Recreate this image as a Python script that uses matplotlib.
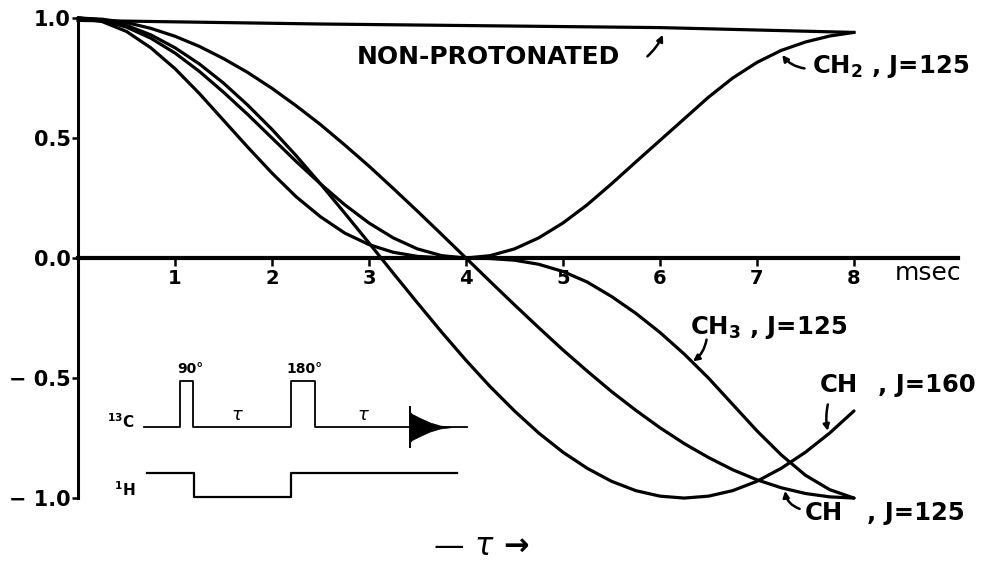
import matplotlib.pyplot as plt

# Delay tau (msec) and relative signal intensity of each carbon type
tau_ms = [0, 0.25, 0.5, 0.75, 1, 1.25, 1.5, 1.75, 2, 2.25, 2.5, 2.75, 3, 3.25, 3.5, 3.75,
          4, 4.25, 4.5, 4.75, 5, 5.25, 5.5, 5.75, 6, 6.25, 6.5, 6.75, 7, 7.25, 7.5, 7.75, 8]

ch_125 = [1.0, 0.995, 0.981, 0.957, 0.924, 0.882, 0.831, 0.773, 0.707, 0.634, 0.556, 0.471,
          0.383, 0.290, 0.195, 0.098, 0.0, -0.098, -0.195, -0.290, -0.383, -0.471, -0.556,
          -0.634, -0.707, -0.773, -0.831, -0.882, -0.924, -0.957, -0.981, -0.995, -1.0]

ch_160 = [1.0, 0.992, 0.969, 0.930, 0.876, 0.809, 0.729, 0.637, 0.536, 0.426, 0.309, 0.187,
          0.063, -0.063, -0.187, -0.309, -0.426, -0.536, -0.637, -0.729, -0.809, -0.876,
          -0.930, -0.969, -0.992, -1.0, -0.992, -0.969, -0.930, -0.876, -0.809, -0.729, -0.637]

ch2_125 = [1.0, 0.990, 0.962, 0.916, 0.854, 0.778, 0.691, 0.598, 0.500, 0.402, 0.309, 0.222,
           0.146, 0.084, 0.038, 0.010, 0.0, 0.010, 0.038, 0.084, 0.146, 0.222, 0.309, 0.400,
           0.490, 0.580, 0.670, 0.750, 0.815, 0.865, 0.900, 0.925, 0.940]

ch3_125 = [1.0, 0.985, 0.944, 0.876, 0.789, 0.686, 0.574, 0.462, 0.354, 0.255, 0.172, 0.104,
           0.056, 0.024, 0.007, 0.001, 0.0, -0.002, -0.009, -0.026, -0.056, -0.100, -0.160,
           -0.230, -0.310, -0.400, -0.500, -0.610, -0.720, -0.820, -0.905, -0.965, -1.0]

nonprot_tau = [0, 2.5, 6, 8]
nonprot = [0.99, 0.975, 0.96, 0.94]

x_ticks = [1, 2, 3, 4, 5, 6, 7, 8]
y_ticks = [-1.0, -0.5, 0.0, 0.5, 1.0]
y_ticklabels = ["\u2212 1.0", "\u2212 0.5", "0.0", "0.5", "1.0"]

BOLD = dict(family="DejaVu Sans", fontweight="bold", color="black")
LW = 2.3
LABEL_FS = 17.5

fig = plt.figure(figsize=(9.92, 5.66), dpi=100)
ax = fig.add_axes([0, 0, 1, 1])
ax.set_xlim(-0.804, 9.423)
ax.set_ylim(-1.283, 1.075)

for ys in (ch_125, ch_160, ch2_125, ch3_125):
    ax.plot(tau_ms, ys, color="black", lw=LW, solid_capstyle="round", solid_joinstyle="round")
ax.plot(nonprot_tau, nonprot, color="black", lw=LW)

# axes drawn through the origin
for side in ("top", "right"):
    ax.spines[side].set_visible(False)
ax.spines["left"].set_position(("data", 0))
ax.spines["left"].set_bounds(-1.0, 1.0)
ax.spines["left"].set_linewidth(2.2)
ax.spines["bottom"].set_position(("data", 0))
ax.spines["bottom"].set_bounds(0, 9.07)
ax.spines["bottom"].set_linewidth(3.0)

ax.set_xticks(x_ticks)
ax.set_xticklabels([str(t) for t in x_ticks])
ax.set_yticks(y_ticks)
ax.set_yticklabels(y_ticklabels)
ax.tick_params(axis="x", direction="out", length=6, width=1.8, pad=2)
ax.tick_params(axis="y", direction="out", length=4, width=1.8, pad=1)
for lbl in ax.get_xticklabels():
    lbl.set_fontfamily("DejaVu Sans")
    lbl.set_fontweight("bold")
    lbl.set_fontsize(14)
for lbl in ax.get_yticklabels():
    lbl.set_fontfamily("DejaVu Sans")
    lbl.set_fontweight("bold")
    lbl.set_fontsize(15)

ax.text(8.42, -0.092, "msec", family="DejaVu Sans", fontsize=18, va="baseline", ha="left")

# curve labels
arrow = dict(arrowstyle="-|>", color="black", lw=1.8, mutation_scale=9, shrinkA=0, shrinkB=0)
ax.text(4.23, 0.8375, "NON-PROTONATED", fontsize=18, ha="center", va="center", **BOLD)
ax.annotate("", xy=(6.03, 0.93), xytext=(5.87, 0.84),
            arrowprops=dict(arrow, connectionstyle="arc3,rad=0.1"))

ax.text(7.57, 0.80, r"CH$_{\mathbf{2}}$ , J=125", fontsize=LABEL_FS, ha="left", va="center", **BOLD)
ax.annotate("", xy=(7.26, 0.846), xytext=(7.49, 0.79),
            arrowprops=dict(arrow, connectionstyle="arc3,rad=-0.2"))

ax.text(6.31, -0.2875, r"CH$_{\mathbf{3}}$ , J=125", fontsize=LABEL_FS, ha="left", va="center", **BOLD)
ax.annotate("", xy=(6.34, -0.43), xytext=(6.48, -0.34),
            arrowprops=dict(arrow, connectionstyle="arc3,rad=-0.2"))

ax.text(7.65, -0.53, "CH", fontsize=LABEL_FS, ha="left", va="center", **BOLD)
ax.text(8.25, -0.53, ", J=160", fontsize=LABEL_FS, ha="left", va="center", **BOLD)
ax.annotate("", xy=(7.73, -0.72), xytext=(7.73, -0.61),
            arrowprops=dict(arrow, connectionstyle="arc3,rad=0.1"))

ax.text(7.49, -1.0625, "CH", fontsize=LABEL_FS, ha="left", va="center", **BOLD)
ax.text(8.13, -1.0625, ", J=125", fontsize=LABEL_FS, ha="left", va="center", **BOLD)
ax.annotate("", xy=(7.29, -0.97), xytext=(7.44, -1.045),
            arrowprops=dict(arrow, connectionstyle="arc3,rad=-0.3"))

ax.text(4.16, -1.20, "\u2014 $\\tau$ \u2192", fontsize=22, fontweight="bold",
        ha="center", va="center", color="black")

# pulse sequence sketch (APT / spin-echo)
ins = fig.add_axes([100 / 992, 1 - 515 / 566, 380 / 992, 160 / 566])
ins.set_xlim(0, 38)
ins.set_ylim(0, 16)
ins.axis("off")
ins.patch.set_alpha(0)

c13_x = [4.4, 8.0, 8.0, 9.3, 9.3, 19.1, 19.1, 21.5, 21.5, 36.7]
c13_y = [8.8, 8.8, 13.4, 13.4, 8.8, 8.8, 13.4, 13.4, 8.8, 8.8]
h1_x = [4.7, 9.4, 9.4, 19.1, 19.1, 35.7]
h1_y = [4.2, 4.2, 1.8, 1.8, 4.2, 4.2]
fid_x = [31.0, 31.2, 32.0, 33.0, 34.0, 35.0]
fid_env = [1.5, 1.3, 0.9, 0.45, 0.15, 0.03]

ins.plot(c13_x, c13_y, color="black", lw=1.3)
ins.plot(h1_x, h1_y, color="black", lw=1.6)
ins.fill_between(fid_x, [8.8 - e for e in fid_env], [8.8 + e for e in fid_env],
                 color="black", lw=0.5)
ins.vlines(31.0, 8.8 - 2.1, 8.8 + 2.1, color="black", lw=1.4)

small = dict(family="DejaVu Sans", fontweight="bold", color="black")
ins.text(9.0, 14.6, "90°", fontsize=10, ha="center", va="center", **small)
ins.text(20.5, 14.6, "180°", fontsize=10, ha="center", va="center", **small)
ins.text(13.7, 10.0, r"$\tau$", fontsize=13, ha="center", va="center")
ins.text(26.3, 10.0, r"$\tau$", fontsize=13, ha="center", va="center")
ins.text(3.5, 9.3, r"$^{\mathbf{13}}$C", fontsize=11, ha="right", va="center", **small)
ins.text(3.5, 2.5, r"$^{\mathbf{1}}$H", fontsize=11, ha="right", va="center", **small)

fig.savefig("out.png", dpi=100, facecolor="white")
